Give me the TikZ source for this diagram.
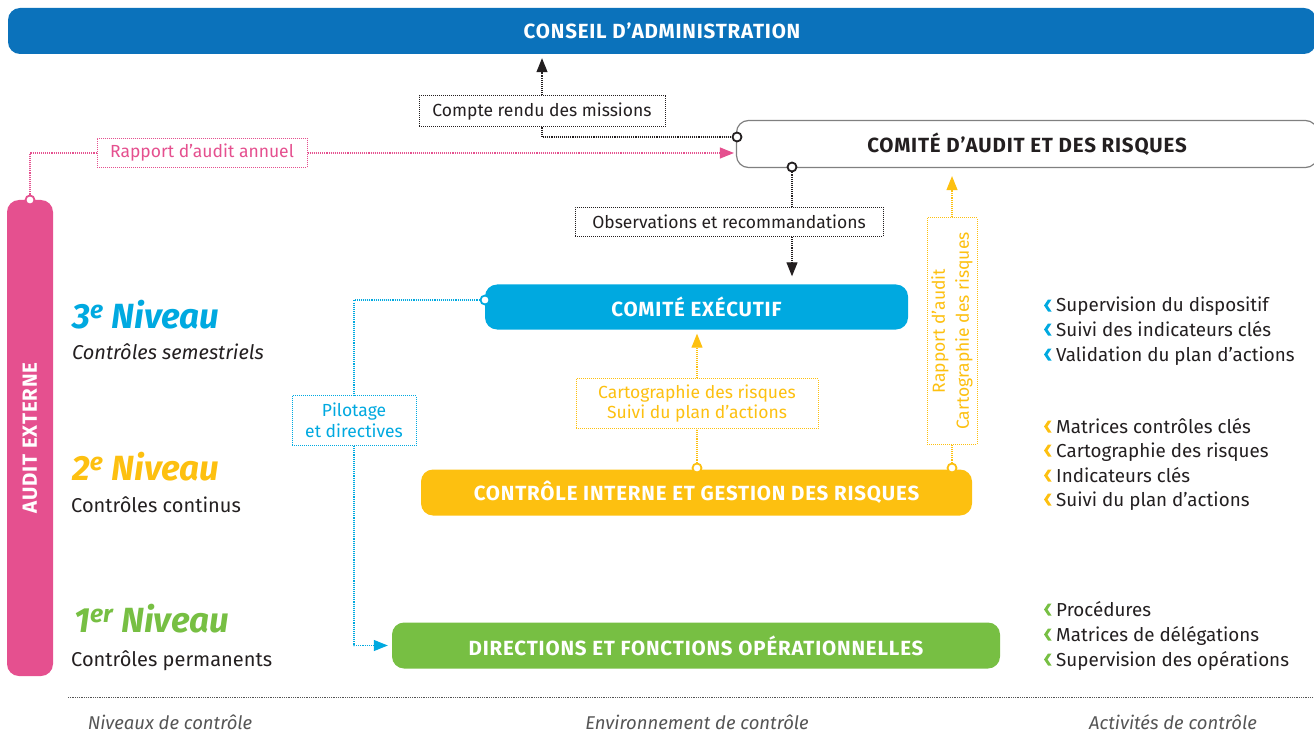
\documentclass[tikz,border=0pt]{standalone}
\usepackage{fontspec}
\setmainfont{Fira Sans}
\usetikzlibrary{arrows.meta}

\definecolor{cablue}{RGB}{11,114,187}
\definecolor{exblue}{RGB}{0,169,224}
\definecolor{ciyellow}{RGB}{253,192,16}
\definecolor{opgreen}{RGB}{119,191,67}
\definecolor{aepink}{RGB}{229,80,143}
\definecolor{ink}{RGB}{35,31,32}
\definecolor{note}{RGB}{85,85,85}

\tikzset{
  bar/.style={rounded corners=12pt, fill=#1, text=white, inner sep=0pt,
    font=\bfseries\fontsize{20.5}{24}\selectfont\addfontfeatures{LetterSpace=4}},
  tag/.style={draw=#1, text=#1, fill=white, densely dotted, line width=1pt,
    inner sep=0pt, align=center, font=\fontsize{17.5}{20.5}\selectfont},
  link/.style={draw=#1, densely dotted, line width=1.1pt},
  tip/.style={-{Triangle[length=14pt,width=11pt]}},
  ring/.style={circle, draw=#1, fill=white, line width=1.8pt, inner sep=0pt,
    minimum size=9pt},
  level/.style={text=#1, anchor=base west, inner sep=0pt,
    font=\bfseries\itshape\fontsize{35}{38}\selectfont},
  sublevel/.style={text=ink, anchor=base west, inner sep=0pt,
    font=\fontsize{20}{23}\selectfont},
  activity/.style={text=ink, anchor=base west, inner sep=0pt,
    font=\fontsize{18.8}{22}\selectfont},
  footer/.style={text=note, inner sep=0pt, font=\itshape\fontsize{18.5}{21}\selectfont},
  chev/.pic={\fill (4,-6) -- (0,0) -- (4,6) -- (7.5,6) -- (3.5,0) -- (7.5,-6) -- cycle;}
}

\begin{document}
\begin{tikzpicture}[x=1pt, y=-1pt]
\useasboundingbox (0,0) rectangle (1314,735);

% main bodies
\node[bar=cablue, minimum width=1308pt, minimum height=46pt] (conseil) at (662,31) {CONSEIL D’ADMINISTRATION};
\node[rounded corners=12pt, draw=gray, line width=1.2pt, fill=white, text=ink,
  font=\bfseries\fontsize{20.5}{24}\selectfont\addfontfeatures{LetterSpace=4},
  minimum width=581pt, minimum height=47pt]
  (comaudit) at (1027,144) {COMITÉ D’AUDIT ET DES RISQUES};
\node[bar=exblue, minimum width=423pt, minimum height=45pt] (comexec) at (696.5,307) {COMITÉ EXÉCUTIF};
\node[bar=ciyellow, minimum width=551pt, minimum height=46pt] (cigr) at (696.5,492.5) {CONTRÔLE INTERNE ET GESTION DES RISQUES};
\node[bar=opgreen, minimum width=608pt, minimum height=46pt] (dirfct) at (696,645.5) {DIRECTIONS ET FONCTIONS OPÉRATIONNELLES};
\node[bar=aepink, rotate=90, minimum width=476pt, minimum height=46pt] (audext) at (30,438) {AUDIT EXTERNE};

% labels on the links
\node[tag=ink, minimum width=246pt, minimum height=31pt] (compte) at (542,111.5) {Compte rendu des missions};
\node[tag=aepink, minimum width=210pt, minimum height=29pt] (rapport) at (202,153) {Rapport d’audit annuel};
\node[tag=ink, minimum width=308pt, minimum height=29pt] (observ) at (729,222) {Observations et recommandations};
\node[tag=exblue, minimum width=124pt, minimum height=50pt] (pilot) at (354,420.5) {Pilotage\\et directives};
\node[tag=ciyellow, minimum width=242pt, minimum height=50pt] (carto) at (697,403.5) {Cartographie des risques\\Suivi du plan d’actions};
\node[tag=ciyellow, rotate=90, minimum width=226pt, minimum height=50pt,
  font=\fontsize{17.5}{24}\selectfont] (rapv) at (952,331) {Rapport d’audit\\Cartographie des risques};

% rings
\node[ring=ink] (r1) at (737,137) {};
\node[ring=ink] (r2) at (792,167) {};
\node[ring=exblue] (r3) at (485,300) {};
\node[ring=ciyellow] (r4) at (697,468) {};
\node[ring=ciyellow] (r5) at (952,468) {};
\node[ring=aepink] (r6) at (30,200) {};

% connectors
\draw[link=ink, tip, shorten >=4pt] (compte.north) -- (compte.north |- conseil.south);
\draw[link=ink] (compte.south) |- (r1);
\draw[link=ink] (r2) -- (r2 |- observ.north);
\draw[link=ink, tip, shorten >=8pt] (r2 |- observ.south) -- (r2 |- comexec.north);
\draw[link=aepink] (r6) |- (rapport.west);
\draw[link=aepink, tip, shorten >=2pt] (rapport.east) -- (rapport.east -| comaudit.west);
\draw[link=exblue] (r3) -| (pilot.north);
\draw[link=exblue, tip, shorten >=4pt] (pilot.south) |- (dirfct.west);
\draw[link=ciyellow] (r4) -- (carto.south);
\draw[link=ciyellow, tip, shorten >=4pt] (carto.north) -- (carto.north |- comexec.south);
\draw[link=ciyellow] (r5) -- (rapv.west);
\draw[link=ciyellow, tip, shorten >=8pt] (rapv.east) -- (rapv.east |- comaudit.south);

% levels
\node[level=exblue] (n3) at (72,328) {3\textsuperscript{e} Niveau};
\node[sublevel, font=\itshape\fontsize{20}{23}\selectfont] (s3) at (72,359) {Contrôles semestriels};
\node[level=ciyellow] (n2) at (72,480) {2\textsuperscript{e} Niveau};
\node[sublevel] (s2) at (71,512) {Contrôles continus};
\node[level=opgreen] (n1) at (74,632) {1\textsuperscript{er} Niveau};
\node[sublevel] (s1) at (71,666) {Contrôles permanents};

% activities
\foreach \txt/\yy/\col in {Supervision du dispositif/312/exblue,
  Suivi des indicateurs clés/336/exblue, Validation du plan d’actions/361/exblue,
  Matrices contrôles clés/433/ciyellow, Cartographie des risques/457/ciyellow,
  Indicateurs clés/482/ciyellow, Suivi du plan d’actions/506/ciyellow,
  Procédures/616/opgreen, Matrices de délégations/641/opgreen,
  Supervision des opérations/666/opgreen}{
  \node[activity] (act\yy) at (1056,\yy) {\txt};
  \pic[fill=\col] at (1044,\yy-6.5) {chev};
}

% footer
\draw[link=note, line width=0.8pt] (68,697) coordinate (f1) -- (1314,697) coordinate (f2);
\node[footer] (fl) at (170,722) {Niveaux de contrôle};
\node[footer] (fm) at (697,722) {Environnement de contrôle};
\node[footer] (fr) at (1173,722) {Activités de contrôle};

\end{tikzpicture}
\end{document}
